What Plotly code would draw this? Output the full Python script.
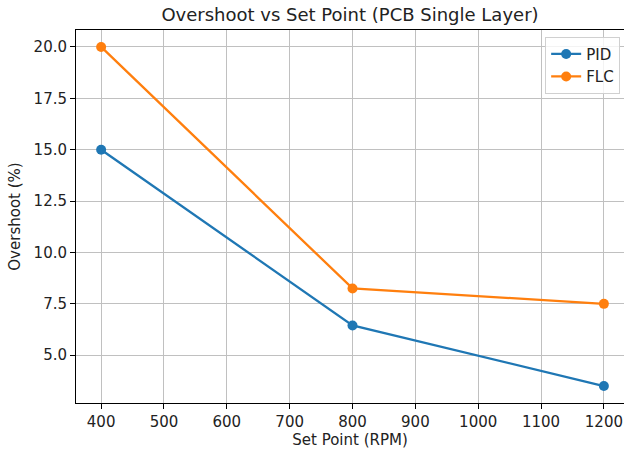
import plotly.graph_objects as go

set_points = [400, 800, 1200]
pid = [15.0, 6.45, 3.5]
flc = [20.0, 8.25, 7.5]
y_ticks = [5.0, 7.5, 10.0, 12.5, 15.0, 17.5, 20.0]
x_ticks = [400, 500, 600, 700, 800, 900, 1000, 1100, 1200]

fig = go.Figure()
fig.add_trace(go.Scatter(x=set_points, y=pid, mode="lines+markers", name="PID",
                         line=dict(color="#1f77b4", width=2.3), marker=dict(size=10, color="#1f77b4")))
fig.add_trace(go.Scatter(x=set_points, y=flc, mode="lines+markers", name="FLC",
                         line=dict(color="#ff7f0e", width=2.3), marker=dict(size=10, color="#ff7f0e")))

font = "DejaVu Sans, sans-serif"
fig.update_layout(
    width=624, height=450,
    margin=dict(l=76, r=0, t=30, b=47),
    paper_bgcolor="white", plot_bgcolor="white",
    font=dict(family=font, size=15, color="#222"),
    title=dict(text="Overshoot vs Set Point (PCB Single Layer)", x=0.5, xref="paper",
               y=0.968, yanchor="middle", font=dict(size=18, color="#222")),
    showlegend=True,
    legend=dict(x=0.993, y=0.982, xanchor="right", yanchor="top",
                bgcolor="rgba(255,255,255,0.8)", bordercolor="#d0d0d0", borderwidth=1,
                font=dict(size=15), itemwidth=30, tracegroupgap=0),
)
fig.update_xaxes(range=[360, 1232], tickvals=x_ticks, ticktext=[str(v) for v in x_ticks],
                 showgrid=True, gridcolor="#c0c0c0", gridwidth=1,
                 showline=True, linecolor="black", linewidth=1, mirror=True,
                 ticks="outside", ticklen=5, tickcolor="black", zeroline=False,
                 title=dict(text="Set Point (RPM)", font=dict(size=15), standoff=3))
fig.update_yaxes(range=[2.675, 20.825], tickvals=y_ticks, ticktext=[f"{v:.1f}" for v in y_ticks],
                 showgrid=True, gridcolor="#c0c0c0", gridwidth=1,
                 showline=True, linecolor="black", linewidth=1, mirror=True,
                 ticks="outside", ticklen=5, tickcolor="black", zeroline=False,
                 title=dict(text="Overshoot (%)", font=dict(size=15), standoff=9))

fig.write_html("out.html")
